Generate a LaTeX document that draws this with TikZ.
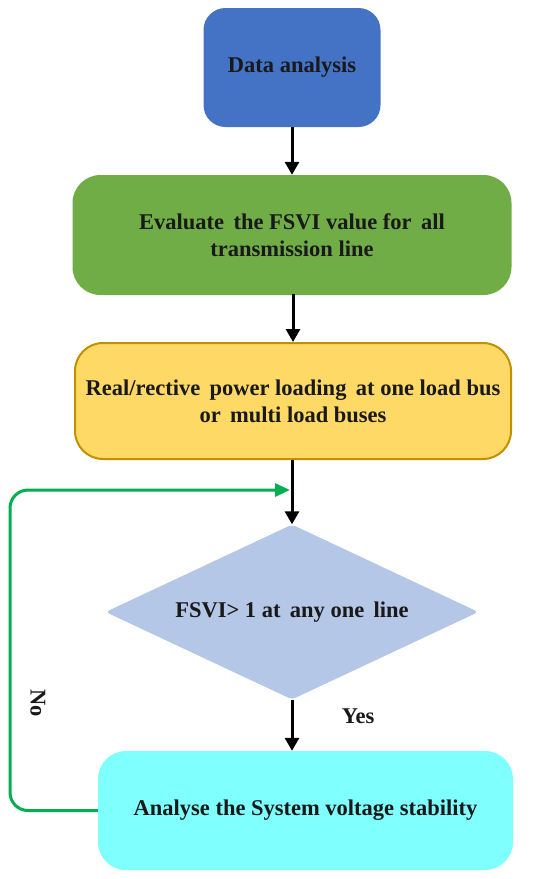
\documentclass[tikz,border=0pt]{standalone}
\usepackage{fontspec}
\setmainfont{Liberation Serif}
\usetikzlibrary{shapes.geometric,arrows.meta}
\definecolor{cblue}{HTML}{4472C4}
\definecolor{cgreen}{HTML}{70AD47}
\definecolor{cyellow}{HTML}{FFD966}
\definecolor{cgold}{HTML}{BF9000}
\definecolor{cdiam}{HTML}{B4C7E7}
\definecolor{ccyan}{HTML}{80FFFF}
\definecolor{cloop}{HTML}{00B050}
\tikzset{
  box/.style={rectangle, inner sep=0pt, align=center, font=\fontsize{22.5}{27}\selectfont\bfseries, text=black!90},
  flow/.style={line width=3pt, -{Triangle[width=14pt,length=13pt]}},
  loopline/.style={line width=3pt, cloop, rounded corners=18pt, -{Triangle[width=13pt,length=15pt]}},
  lbl/.style={font=\fontsize{22.5}{27}\selectfont\bfseries, text=black!90}
}
\begin{document}
\begin{tikzpicture}[x=1pt,y=-1pt]
\useasboundingbox (0,0) rectangle (550,879);
\node[box, fill=cblue, rounded corners=22pt, minimum width=177pt, minimum height=119pt] (n1) at (292,67.5) {Data analysis};
\node[box, fill=cgreen, rounded corners=28pt, minimum width=439pt, minimum height=120pt] (n2) at (292,235) {Evaluate\, the FSVI value for\, all\\transmission line};
\node[box, fill=cyellow, draw=cgold, line width=2pt, rounded corners=28pt, minimum width=436pt, minimum height=116pt] (n3) at (293,401) {Real/rective\, power loading\, at one load bus\\or\, multi load buses};
\node[diamond, shape aspect=2.13, fill=cdiam, rounded corners=4pt, minimum width=373pt, minimum height=175pt, inner sep=0pt, font=\fontsize{22.5}{27}\selectfont\bfseries, text=black!90] (n4) at (292,612) {FSVI> 1 at\, any one\, line};
\node[box, fill=ccyan, rounded corners=28pt, minimum width=415pt, minimum height=119pt] (n5) at (305.5,810.5) {Analyse the System voltage stability};
\coordinate (j) at (292,490);
\coordinate (lx) at (10,490);
\draw[flow] (n1.south) -- (n2.north);
\draw[flow] (n2.south) -- (n3.south |- n2.south) -- (n3.north);
\draw[flow] (n3.south -| j) -- (n4.north);
\draw[flow] (n4.south) -- (n4.south |- n5.north);
\draw[loopline] (n5.west) -| (lx) -- ([xshift=-2pt]j);
\node[lbl] (yes) at (358,716) {Yes};
\node[lbl, rotate=-90] (no) at (38,703) {No};
\end{tikzpicture}
\end{document}
